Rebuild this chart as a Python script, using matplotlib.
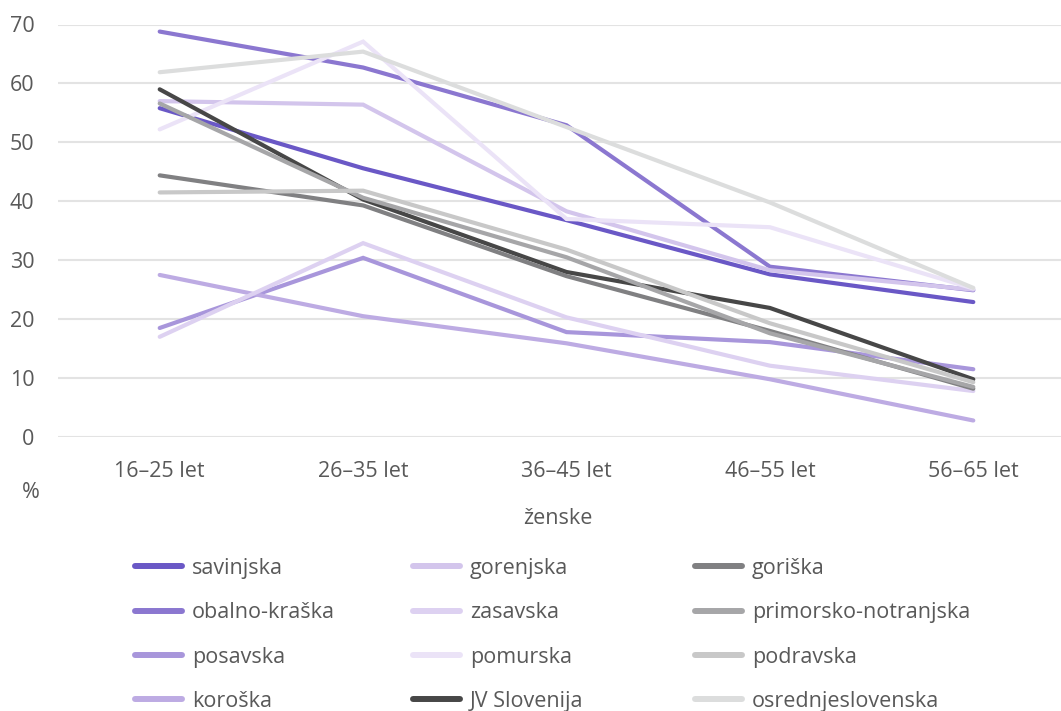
import matplotlib.pyplot as plt
from matplotlib.lines import Line2D

plt.rcParams['font.family'] = ['Open Sans', 'DejaVu Sans']

categories = ["16–25 let", "26–35 let", "36–45 let", "46–55 let", "56–65 let"]

savinjska = [55.8, 45.6, 36.8, 27.6, 22.9]
obalno_kraska = [68.8, 62.7, 52.9, 28.9, 24.9]
posavska = [18.5, 30.4, 17.8, 16.1, 11.5]
koroska = [27.5, 20.5, 15.9, 9.8, 2.8]
gorenjska = [57.0, 56.4, 38.3, 28.3, 25.0]
zasavska = [17.0, 32.9, 20.3, 12.1, 7.8]
pomurska = [52.2, 67.1, 37.0, 35.6, 25.2]
jv_slovenija = [59.0, 40.3, 28.0, 21.9, 9.8]
goriska = [44.4, 39.3, 27.3, 18.0, 8.2]
primorsko_notranjska = [56.6, 40.6, 30.5, 17.6, 8.5]
podravska = [41.5, 41.8, 31.8, 19.3, 9.3]
osrednjeslovenska = [61.9, 65.4, 52.6, 39.8, 25.3]

series = [
    ("savinjska", savinjska, "#6a58c6"),
    ("obalno-kraška", obalno_kraska, "#8b77d0"),
    ("posavska", posavska, "#a896db"),
    ("koroška", koroska, "#bdabe3"),
    ("gorenjska", gorenjska, "#d3c5ec"),
    ("zasavska", zasavska, "#ddd1f1"),
    ("pomurska", pomurska, "#ebe3f7"),
    ("JV Slovenija", jv_slovenija, "#474747"),
    ("goriška", goriska, "#808082"),
    ("primorsko-notranjska", primorsko_notranjska, "#a6a6a8"),
    ("podravska", podravska, "#c8c8c8"),
    ("osrednjeslovenska", osrednjeslovenska, "#dcdddd"),
]

TXT = "#595959"
FS = 15.5
W, H = 1061, 711
fig = plt.figure(figsize=(W / 100, H / 100), dpi=100)
ax = fig.add_axes([58 / W, 1 - 437 / H, (1075 - 58) / W, (437 - 24.5) / H])

x = list(range(len(categories)))
handles = []
for name, vals, col in series:
    ax.plot(x, vals, color=col, lw=3.0, solid_capstyle="round",
            solid_joinstyle="miter", label=name)
    handles.append(Line2D([0], [0], color=col, lw=4.3, solid_capstyle="round"))

ax.set_xlim(-0.5, len(categories) - 0.5)
ax.set_ylim(0, 70)
ax.set_yticks(range(0, 71, 10))
ax.set_xticks(x)
ax.set_xticklabels(categories)
ax.grid(axis="y", color="#e3e3e3", lw=1.5)
ax.set_axisbelow(True)
for s in ax.spines.values():
    s.set_visible(False)
ax.tick_params(axis="both", length=0, labelsize=FS, labelcolor=TXT)
ax.tick_params(axis="y", pad=17)
ax.tick_params(axis="x", pad=17)

fig.text(31 / W, 1 - 493 / H, "%", fontsize=FS, color=TXT, ha="center", va="center")
fig.text(558 / W, 1 - 518 / H, "ženske", fontsize=FS, color=TXT, ha="center", va="center")

# legenda v treh stolpcih s fiksno širino
col_x = [135, 413, 695]
for i in range(3):
    fig.legend(handles[i * 4:(i + 1) * 4], [s[0] for s in series[i * 4:(i + 1) * 4]],
               loc="upper left", bbox_to_anchor=(col_x[i] / W, 1 - 558 / H),
               frameon=False, fontsize=FS, labelcolor=TXT, handlelength=2.2,
               handletextpad=0.45, labelspacing=1.08, borderaxespad=0, borderpad=0)

fig.savefig("out.png", dpi=100)
